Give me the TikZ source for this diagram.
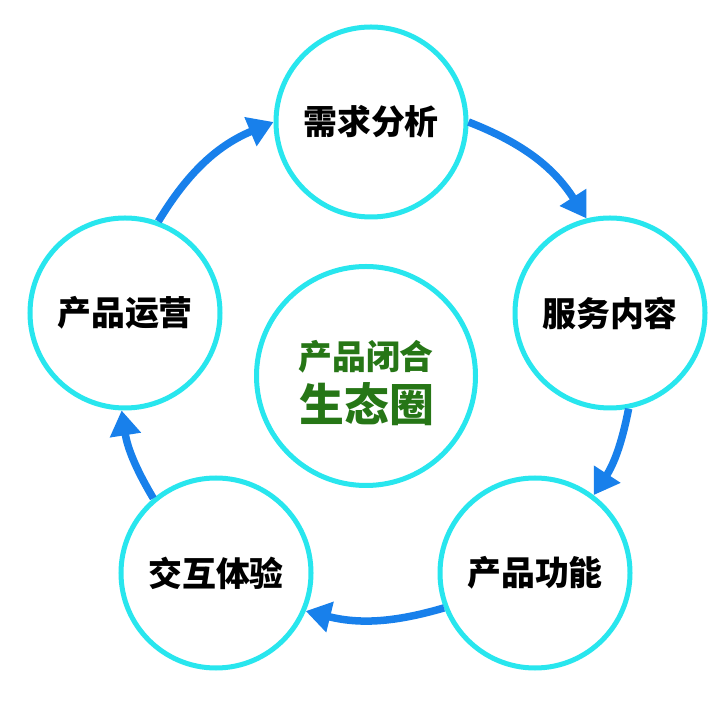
\documentclass[tikz,border=0pt]{standalone}
\usepackage{fontspec}
\newfontfamily\cjk{Noto Sans CJK SC}
\usetikzlibrary{arrows.meta}
\definecolor{ringcyan}{RGB}{40,230,238}
\definecolor{arrowblue}{RGB}{24,128,235}
\definecolor{ecogreen}{RGB}{38,118,22}
\begin{document}
\begin{tikzpicture}[x=1bp,y=1bp,
  ring/.style={circle, draw=ringcyan, line width=5bp, minimum size=190bp, inner sep=0pt,
    font=\cjk\bfseries\fontsize{34}{40}\selectfont},
  flow/.style={draw=arrowblue, line width=7.5bp, -{Triangle[length=25bp,width=30bp]}},
  ecotext/.style={text=ecogreen, inner sep=0pt},
]
\useasboundingbox (0,0) rectangle (720,720);
\fill[white] (0,0) rectangle (720,720);

\node[ring] (top)   at (371,598) {需求分析};
\node[ring] (right) at (610,407) {服务内容};
\node[ring] (br)    at (535,147) {产品功能};
\node[ring] (bl)    at (216,147) {交互体验};
\node[ring] (left)  at (125,407) {产品运营};
\node[ring, minimum size=219bp] (mid) at (366,344) {};
\node[ecotext, font=\cjk\bfseries\fontsize{34}{40}\selectfont] (mid1) at (366,363) {产品闭合};
\node[ecotext, font=\cjk\bfseries\fontsize{45}{50}\selectfont] (mid2) at (367,316) {生态圈};

\draw[flow] (left.70) to[bend left=18] (top.180);
\draw[flow] (top.0) to[bend left=18] (right.104);
\draw[flow] (right.-79) to[bend left=11] (br.53);
\draw[flow] (br.201) to[bend left=15] (bl.-23);
\draw[flow] (bl.130) to[bend left=11] (left.268);
\end{tikzpicture}
\end{document}
